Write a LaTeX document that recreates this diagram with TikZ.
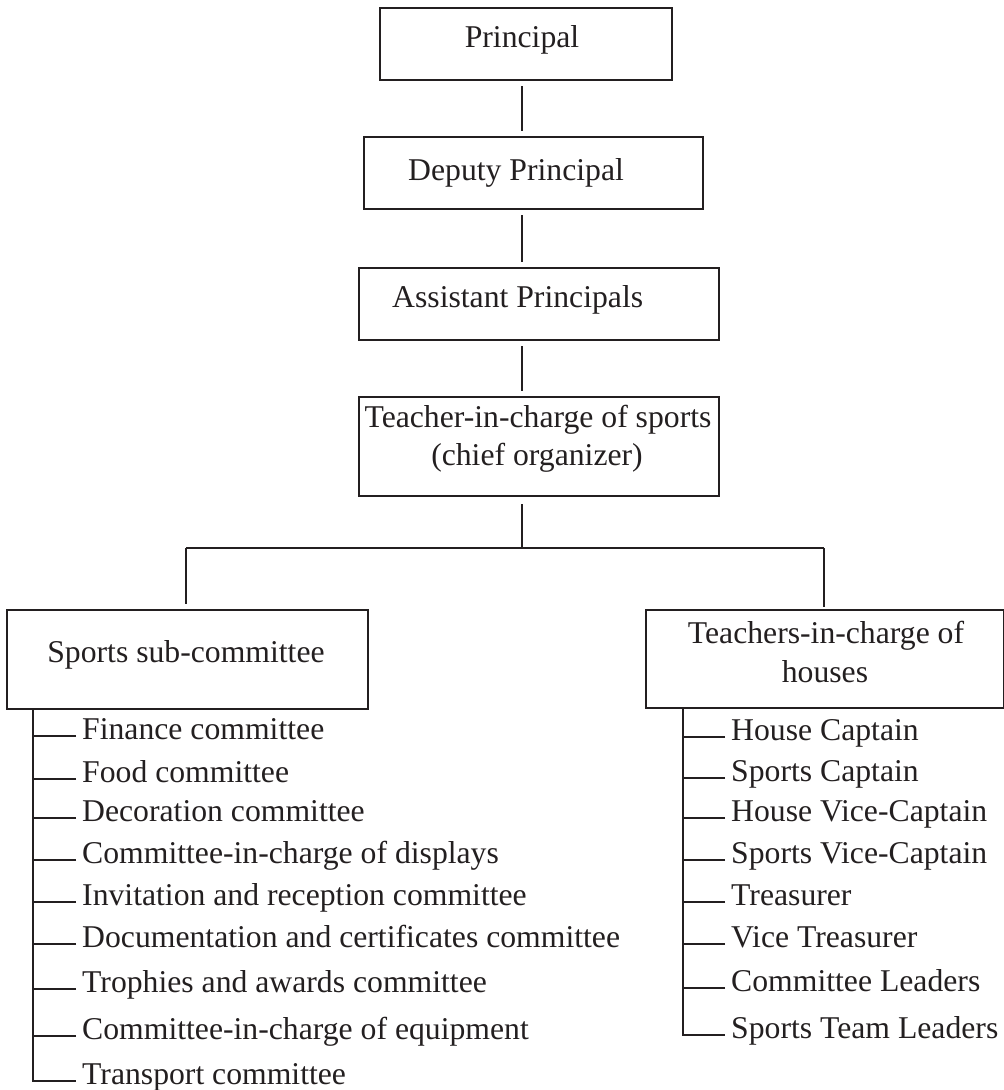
\documentclass[tikz,border=0pt]{standalone}
\usepackage{fontspec}
\setmainfont{Liberation Serif}
\definecolor{ink}{RGB}{35,31,32}
\begin{document}
\begin{tikzpicture}[x=1pt,y=-1pt,
  ln/.style={draw=ink, line width=2.5pt},
  box/.style={ln, rectangle, inner sep=0pt},
  txt/.style={text=ink, inner sep=0pt, font=\fontsize{31.7}{38}\selectfont},
  link/.style={ln, shorten <=5pt, shorten >=5pt},
]
\useasboundingbox (0,0) rectangle (1004,1090);

% boxes
\node[box, minimum width=292pt, minimum height=72pt] (p) at (526,44) {};
\node[box, minimum width=339pt, minimum height=72pt] (d) at (533.5,173) {};
\node[box, minimum width=360pt, minimum height=72pt] (a) at (539,304) {};
\node[box, minimum width=360pt, minimum height=99pt] (t) at (539,446.5) {};
\node[box, minimum width=361pt, minimum height=99pt] (s) at (187.5,659.5) {};
\node[box, minimum width=358pt, minimum height=98pt] (h) at (825,659) {};

% box texts
\node[txt, anchor=base] (tp) at (522,47) {Principal};
\node[txt, anchor=base west] (td) at (408,180) {Deputy Principal};
\node[txt, anchor=base west] (ta) at (392,307) {Assistant Principals};
\node[txt, anchor=base] (tt1) at (538,427) {Teacher-in-charge of sports};
\node[txt, anchor=base] (tt2) at (537,465) {(chief organizer)};
\node[txt, anchor=base] (ts) at (186,662) {Sports sub-committee};
\node[txt, anchor=base] (th1) at (826,643) {Teachers-in-charge of};
\node[txt, anchor=base] (th2) at (825,682) {houses};

% main spine
\coordinate (spine) at (522,0);
\draw[link] (p.south -| spine) -- (d.north -| spine);
\draw[link] (d.south -| spine) -- (a.north -| spine);
\draw[link] (a.south -| spine) -- (t.north -| spine);

% branch bar
\coordinate (barL) at (186,548);
\coordinate (barR) at (824,548);
\coordinate (barM) at (522,548);
\draw[ln, shorten <=7pt] (t.south -| spine) -- (barM);
\draw[ln] (barL) -- (barR);
\draw[ln, shorten >=5pt] (barL) -- (s.north -| barL);
\draw[ln, shorten >=2pt] (barR) -- (h.north -| barR);

% left list
\coordinate (lx) at (33,0);
\foreach \n/\yy/\lab in {
  l1/739/Finance committee,
  l2/782/Food committee,
  l3/821/Decoration committee,
  l4/863/Committee-in-charge of displays,
  l5/905/Invitation and reception committee,
  l6/947/Documentation and certificates committee,
  l7/992/Trophies and awards committee,
  l8/1039/Committee-in-charge of equipment,
  l9/1084/Transport committee}{
  \node[txt, anchor=base west] (\n) at (82,\yy) {\lab};
}
\foreach \n in {l1,l2,l3,l4,l5,l6,l7,l8}{
  \draw[ln] ([shift={(-6,-3)}]\n.base west) -- ++(-43,0);
}
\draw[ln] (s.south -| lx) |- ([shift={(-6,-3)}]l9.base west);

% right list
\coordinate (rx) at (683,0);
\foreach \n/\yy/\lab in {
  r1/740/House Captain,
  r2/781/Sports Captain,
  r3/821/House Vice-Captain,
  r4/863/Sports Vice-Captain,
  r5/905/Treasurer,
  r6/947/Vice Treasurer,
  r7/991/Committee Leaders,
  r8/1038/Sports Team Leaders}{
  \node[txt, anchor=base west] (\n) at (731,\yy) {\lab};
}
\foreach \n in {r1,r2,r3,r4,r5,r6,r7}{
  \draw[ln] ([shift={(-6,-3)}]\n.base west) -- ++(-42,0);
}
\draw[ln] (h.south -| rx) |- ([shift={(-6,-3)}]r8.base west);
\end{tikzpicture}
\end{document}
